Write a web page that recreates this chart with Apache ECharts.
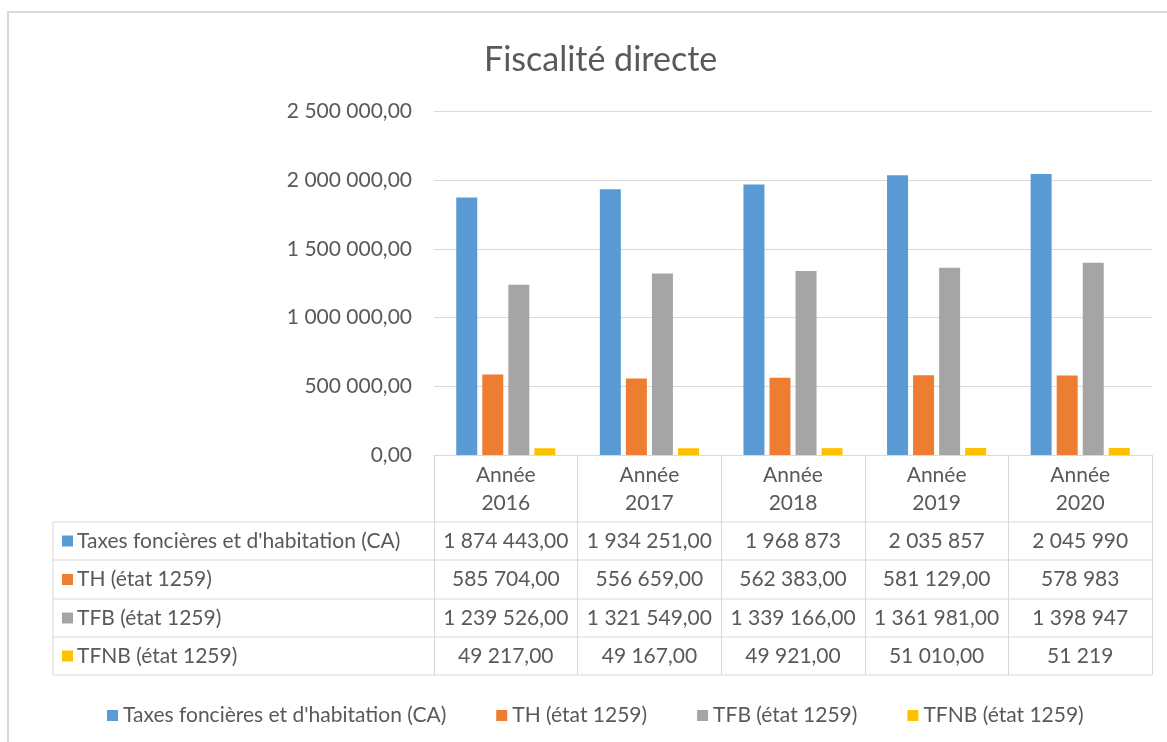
<!DOCTYPE html>
<html>
<head>
<meta charset="utf-8">
<script src="https://cdn.jsdelivr.net/npm/echarts@6/dist/echarts.min.js"></script>
<style>
  html, body { margin: 0; padding: 0; background: #ffffff; }
  #chart { width: 1167px; height: 742px; }
</style>
</head>
<body>
<div id="chart"></div>
<script>
// données
const years = ["Année 2016", "Année 2017", "Année 2018", "Année 2019", "Année 2020"];
const seriesNames = [
    "Taxes foncières et d'habitation (CA)",
    "TH (état 1259)",
    "TFB (état 1259)",
    "TFNB (état 1259)",
];
const taxesCA = [1874443, 1934251, 1968873, 2035857, 2045990];
const th1259 = [585704, 556659, 562383, 581129, 578983];
const tfb1259 = [1239526, 1321549, 1339166, 1361981, 1398947];
const tfnb1259 = [49217, 49167, 49921, 51010, 51219];
// affichage des décimales dans le tableau (",00")
const centsCA = [true, true, false, false, false];
const centsTH = [true, true, true, true, false];
const centsTFB = [true, true, true, true, false];
const centsTFNB = [true, true, true, true, false];
const yTicks = [0, 500000, 1000000, 1500000, 2000000, 2500000];

const colors = ["#5B9BD5", "#ED7D31", "#A5A5A5", "#FFC000"];
const values = [taxesCA, th1259, tfb1259, tfnb1259];
const cents = [centsCA, centsTH, centsTFB, centsTFNB];

const FONT = "Lato";
const FS = 21;
const TEXT = "#595959";
const LINE = "#d9d9d9";

function frNumber(v, withCents) {
    const s = Math.round(v).toString().replace(/\B(?=(\d{3})+(?!\d))/g, " ");
    return withCents ? s + ",00" : s;
}

const chart = echarts.init(document.getElementById("chart"));

const gridLeft = 434;
const gridRight = 15;
const gridTop = 111.5;
const gridBottom = 287;
const axisY = 742 - gridBottom;
const rowCenters = [541, 579.5, 618, 656];
const rowLines = [522, 560, 599, 637, 675];

const xAxes = [
    {
        type: "category",
        data: years,
        boundaryGap: true,
        axisLine: { lineStyle: { color: LINE } },
        axisTick: { show: true, interval: 0, length: rowLines[4] - axisY, lineStyle: { color: LINE } },
        axisLabel: {
            interval: 0,
            margin: 6,
            color: TEXT,
            fontFamily: FONT,
            fontSize: FS,
            lineHeight: 28,
            formatter: (v) => v.replace(" ", "\n"),
        },
    },
];
values.forEach((vals, s) => {
    xAxes.push({
        type: "category",
        data: years,
        position: "bottom",
        offset: rowCenters[s] - axisY,
        boundaryGap: true,
        axisLine: { show: false },
        axisTick: { show: false },
        splitLine: { show: false },
        axisLabel: {
            interval: 0,
            margin: 0,
            verticalAlign: "middle",
            color: TEXT,
            fontFamily: FONT,
            fontSize: FS,
            formatter: (v, i) => frNumber(vals[i], cents[s][i]),
        },
    });
});

const graphics = [
    {
        type: "rect",
        shape: { x: 8, y: 12, width: 1300, height: 900 },
        style: { fill: "none", stroke: LINE, lineWidth: 2 },
        silent: true,
    },
    {
        type: "line",
        shape: { x1: 53, y1: rowLines[0], x2: 53, y2: rowLines[4] },
        style: { stroke: LINE, lineWidth: 1 },
        silent: true,
    },
];
rowLines.forEach((y) => {
    graphics.push({
        type: "line",
        shape: { x1: 53, y1: y, x2: 1167 - gridRight, y2: y },
        style: { stroke: LINE, lineWidth: 1 },
        silent: true,
    });
});
seriesNames.forEach((name, s) => {
    graphics.push({
        type: "rect",
        shape: { x: 62, y: rowCenters[s] - 5.5, width: 11, height: 11 },
        style: { fill: colors[s] },
        silent: true,
    });
    graphics.push({
        type: "text",
        x: 77,
        y: rowCenters[s],
        style: {
            text: name,
            fill: TEXT,
            font: FS + "px " + FONT,
            verticalAlign: "middle",
        },
        silent: true,
    });
});

const option = {
    animation: false,
    color: colors,
    title: {
        text: "Fiscalité directe",
        left: 479,
        top: 38,
        textStyle: { color: TEXT, fontFamily: FONT, fontSize: 34, fontWeight: "normal" },
    },
    legend: {
        data: seriesNames,
        left: 102,
        top: 700,
        itemWidth: 11,
        itemHeight: 11,
        itemGap: 50,
        icon: "rect",
        textStyle: { color: TEXT, fontFamily: FONT, fontSize: FS },
    },
    grid: { left: gridLeft, right: gridRight, top: gridTop, bottom: gridBottom },
    xAxis: xAxes,
    yAxis: {
        type: "value",
        min: yTicks[0],
        max: yTicks[yTicks.length - 1],
        interval: yTicks[1] - yTicks[0],
        axisLine: { show: false },
        axisTick: { show: false },
        axisLabel: {
            margin: 22,
            color: TEXT,
            fontFamily: FONT,
            fontSize: FS,
            formatter: (v) => frNumber(v, true),
        },
        splitLine: { lineStyle: { color: LINE } },
    },
    series: seriesNames.map((name, s) => ({
        name: name,
        type: "bar",
        data: values[s],
        barWidth: 21,
        barGap: "24%",
        itemStyle: { color: colors[s] },
    })),
    graphic: graphics,
};
chart.setOption(option);
</script>
</body>
</html>
